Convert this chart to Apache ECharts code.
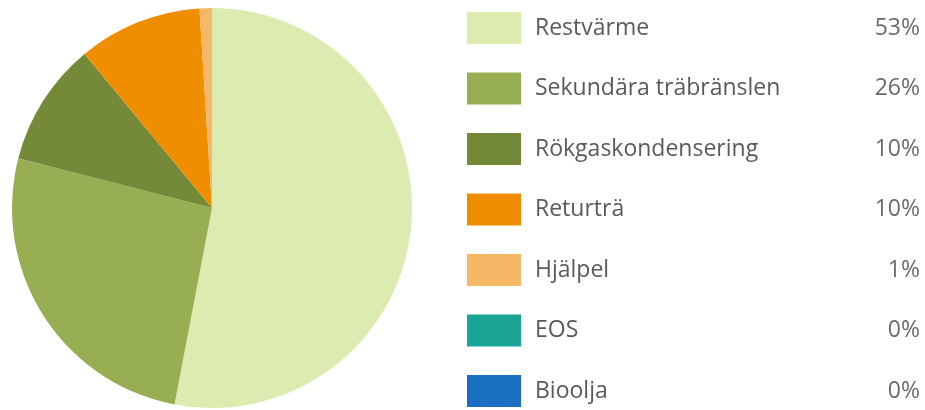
<!DOCTYPE html>
<html>
<head>
<meta charset="utf-8">
<script src="https://cdn.jsdelivr.net/npm/echarts@6/dist/echarts.min.js"></script>
<style>
html,body{margin:0;padding:0;background:#fff;}
#chart{width:925px;height:410px;}
</style>
</head>
<body>
<div id="chart"></div>
<script>
var categories = ['Restvärme', 'Sekundära träbränslen', 'Rökgaskondensering', 'Returträ', 'Hjälpel', 'EOS', 'Bioolja'];
var values = [53, 26, 10, 10, 1, 0, 0];
var percentLabels = ['53%', '26%', '10%', '10%', '1%', '0%', '0%'];
var colors = ['#dcebb0', '#98ae52', '#748a38', '#ef8f00', '#f4b866', '#1aa596', '#1b6fc2'];

var chart = echarts.init(document.getElementById('chart'));
var data = categories.map(function (c, i) {
  return { name: c, value: values[i], itemStyle: { color: colors[i] } };
});
chart.setOption({
  animation: false,
  backgroundColor: '#ffffff',
  legend: {
    orient: 'vertical',
    left: 467,
    top: 12,
    padding: 0,
    itemWidth: 54,
    itemHeight: 32,
    itemGap: 28.5,
    icon: 'rect',
    selectedMode: false,
    data: categories,
    formatter: function (name) {
      var i = categories.indexOf(name);
      return '{n|' + name + '}{p|' + percentLabels[i] + '}';
    },
    textStyle: {
      rich: {
        n: { width: 300, fontFamily: 'Open Sans', fontSize: 23, color: '#5a5a5a', padding: [0, 0, 0, 9] },
        p: { width: 85, align: 'right', fontFamily: 'Open Sans', fontSize: 23, color: '#6a6a6a' }
      }
    }
  },
  series: [{
    type: 'pie',
    center: [212, 208],
    radius: 200,
    startAngle: 90,
    clockwise: true,
    label: { show: false },
    labelLine: { show: false },
    emphasis: { disabled: true },
    itemStyle: { borderWidth: 0 },
    data: data
  }]
});
</script>
</body>
</html>
